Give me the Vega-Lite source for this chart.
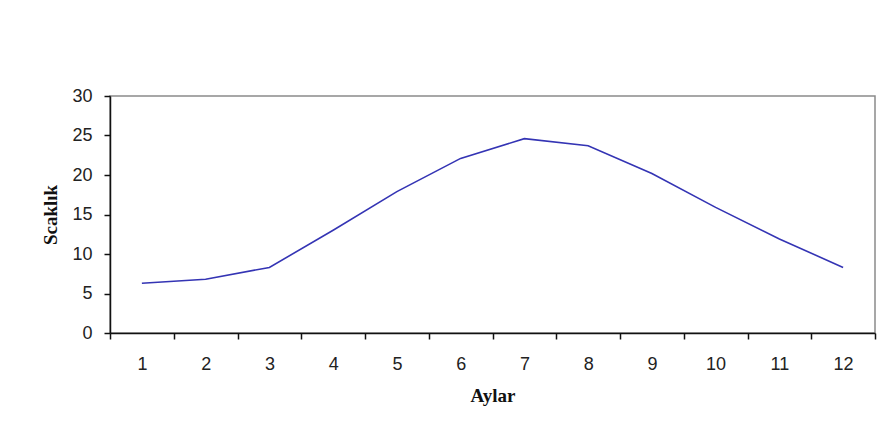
{
  "$schema": "https://vega.github.io/schema/vega-lite/v6.json",
  "width": 765,
  "height": 237,
  "autosize": {"type": "none"},
  "padding": {"left": 110, "top": 96, "right": 10, "bottom": 104},
  "background": "white",
  "config": {
    "view": {"stroke": "#8a8a8a", "strokeWidth": 1.5},
    "axis": {
      "labelFont": "Liberation Sans",
      "labelFontSize": 18,
      "labelColor": "#222222",
      "titleFont": "Liberation Serif",
      "titleFontSize": 19,
      "titleFontWeight": "bold",
      "titleColor": "#111111",
      "domainColor": "#111111",
      "domainWidth": 1.5,
      "tickColor": "#111111",
      "tickWidth": 1.5,
      "tickSize": 6,
      "grid": false
    }
  },
  "data": {
    "values": [
      {"ay": "1", "sicaklik": 6.3},
      {"ay": "2", "sicaklik": 6.8},
      {"ay": "3", "sicaklik": 8.3},
      {"ay": "4", "sicaklik": 13.0},
      {"ay": "5", "sicaklik": 17.9},
      {"ay": "6", "sicaklik": 22.1},
      {"ay": "7", "sicaklik": 24.6},
      {"ay": "8", "sicaklik": 23.7},
      {"ay": "9", "sicaklik": 20.2},
      {"ay": "10", "sicaklik": 15.9},
      {"ay": "11", "sicaklik": 11.9},
      {"ay": "12", "sicaklik": 8.3}
    ]
  },
  "mark": {"type": "line", "color": "#3434b4", "strokeWidth": 1.6},
  "encoding": {
    "x": {
      "field": "ay",
      "type": "ordinal",
      "sort": null,
      "bandPosition": 0.5,
      "scale": {"type": "band", "paddingInner": 0, "paddingOuter": 0},
      "axis": {
        "title": "Aylar",
        "labelAngle": 0,
        "tickBand": "extent",
        "labelPadding": 16,
        "titlePadding": 13
      }
    },
    "y": {
      "field": "sicaklik",
      "type": "quantitative",
      "scale": {"domain": [0, 30], "nice": false, "zero": true},
      "axis": {
        "title": "Scaklık",
        "values": [0, 5, 10, 15, 20, 25, 30],
        "labelPadding": 12,
        "titlePadding": 11
      }
    }
  }
}
